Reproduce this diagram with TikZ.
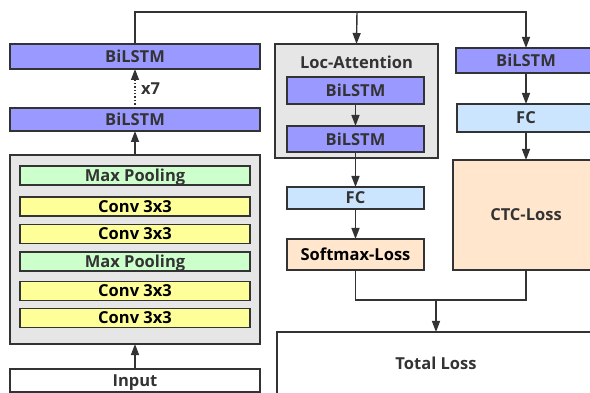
\documentclass[tikz,border=0pt]{standalone}
\usepackage{fontspec}
\setmainfont{Open Sans}
\usepackage{tikz}
\usetikzlibrary{arrows.meta}
\definecolor{linecol}{HTML}{333333}
\definecolor{lstmcol}{HTML}{9999FF}
\definecolor{poolcol}{HTML}{CCFFCC}
\definecolor{convcol}{HTML}{FFFF99}
\definecolor{fccol}{HTML}{CCE5FF}
\definecolor{losscol}{HTML}{FFE6CC}
\definecolor{groupcol}{HTML}{E6E6E6}

\begin{document}
\begin{tikzpicture}[x=1pt,y=-1pt,
  font=\fontsize{16.5}{18}\selectfont\bfseries,
  blk/.style={draw=linecol, line width=1.5pt, text=linecol, inner sep=0pt, outer sep=0pt, text depth=0pt},
  lstm/.style={blk, fill=lstmcol},
  pool/.style={blk, fill=poolcol, line width=1.3pt},
  conv/.style={blk, fill=convcol, line width=1.3pt, text=black},
  fcl/.style={blk, fill=fccol},
  loss/.style={blk, fill=losscol},
  grp/.style={blk, fill=groupcol},
  arr/.style={draw=linecol, line width=1.4pt, -{Triangle[length=11pt,width=8pt]}},
  lnk/.style={draw=linecol, line width=1.4pt}]
\useasboundingbox (0,0) rectangle (590,393);
\node[blk, fill=white, minimum width=250, minimum height=23] (input) at (135,380.5) {Input};
\node[grp, minimum width=250, minimum height=189] (cnn) at (135,249.5) {};
\node[pool, minimum width=230, minimum height=19] (pool1) at (135,175.5) {Max Pooling};
\node[conv, minimum width=230, minimum height=19] (conv1) at (135,206.5) {Conv 3x3};
\node[conv, minimum width=230, minimum height=19] (conv2) at (135,234) {Conv 3x3};
\node[pool, minimum width=230, minimum height=19] (pool2) at (135,261.5) {Max Pooling};
\node[conv, minimum width=230, minimum height=19] (conv3) at (135,291) {Conv 3x3};
\node[conv, minimum width=230, minimum height=19] (conv4) at (135,318) {Conv 3x3};
\node[lstm, minimum width=250, minimum height=23] (lstmA) at (135,119.5) {BiLSTM};
\node[lstm, minimum width=250, minimum height=25] (lstmB) at (135,56.5) {BiLSTM};

\node[grp, minimum width=163, minimum height=114] (att) at (356.5,101) {};
\node[text=linecol] (atttitle) at (356.5,62) {Loc-Attention};
\node[lstm, minimum width=137, minimum height=27] (attA) at (355.5,90.5) {BiLSTM};
\node[lstm, minimum width=137, minimum height=26] (attB) at (355.5,139) {BiLSTM};
\node[fcl, minimum width=137, minimum height=22] (fcA) at (355.5,198) {FC};
\node[loss, minimum width=137, minimum height=31, text=black] (smax) at (355.5,254.5) {Softmax-Loss};

\node[lstm, minimum width=140, minimum height=25] (lstmC) at (526,60.5) {BiLSTM};
\node[fcl, minimum width=138, minimum height=28] (fcB) at (526,118) {FC};
\node[loss, minimum width=146, minimum height=110] (ctc) at (526,215) {CTC-Loss};
\node[blk, fill=white, minimum width=318, minimum height=62] (total) at (436,363) {Total Loss};

\coordinate (split) at (357,12);
\coordinate (merge) at (436,300);

\draw[arr] (input) -- (cnn);
\draw[arr] (cnn) -- (lstmA);
\draw[arr, dotted] (lstmA) -- node[right, text=linecol, xshift=2pt] (rep) {x7} (lstmB);
\draw[arr] (lstmB.north) |- (split) -| (lstmC.north);
\draw[arr] (split) -- (att.north);
\draw[arr] (attA) -- (attB);
\draw[arr] (attB.south) -- (fcA.north);
\draw[arr] (fcA) -- (smax);
\draw[arr] (lstmC.south) -- (lstmC.south |- fcB.north);
\draw[arr] (fcB.south) -- (fcB.south |- ctc.north);
\draw[lnk] (smax.south) |- (merge) -| (ctc.south);
\draw[arr] (merge) -- (total.north);
\end{tikzpicture}
\end{document}
